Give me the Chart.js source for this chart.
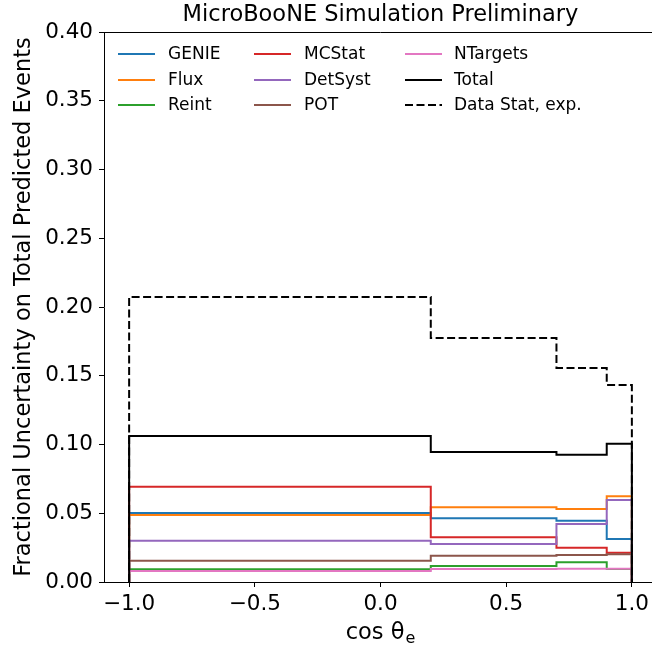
<!DOCTYPE html>
<html>
<head>
<meta charset="utf-8">
<script src="https://cdn.jsdelivr.net/npm/chart.js@4/dist/chart.umd.min.js"></script>
<style>
  html, body { margin: 0; padding: 0; background: #fff; overflow: hidden; }
  #wrap { width: 652px; height: 648px; overflow: hidden; position: relative; }
  canvas { display: block; }
</style>
</head>
<body>
<div id="wrap"><canvas id="c" width="670" height="648"></canvas></div>
<script>
// ---- data ----
const binEdges = [-1.0, 0.2, 0.7, 0.9, 1.0];
const xTickValues = [-1.0, -0.5, 0.0, 0.5, 1.0];
const seriesNames = ["GENIE", "Flux", "Reint", "MCStat", "DetSyst", "POT", "NTargets", "Total", "Data Stat, exp."];
const genie    = [0.0502, 0.0463, 0.0446, 0.0313];
const flux     = [0.0487, 0.0543, 0.0531, 0.0623];
const reint    = [0.0092, 0.0116, 0.0143, 0.0095];
const mcstat   = [0.0693, 0.0325, 0.0250, 0.0213];
const detsyst  = [0.0300, 0.0276, 0.0422, 0.0596];
const pot      = [0.0155, 0.0191, 0.0196, 0.0201];
const ntargets = [0.0080, 0.0095, 0.0096, 0.0097];
const total    = [0.1062, 0.0945, 0.0925, 0.1006];
const dataStat = [0.2073, 0.1775, 0.1556, 0.1433];

const seriesValues = [genie, flux, reint, mcstat, detsyst, pot, ntargets, total, dataStat];
const seriesColors = ["#1f77b4", "#ff7f0e", "#2ca02c", "#d62728", "#9467bd", "#8c564b", "#e377c2", "#000000", "#000000"];
const seriesDash = [[], [], [], [], [], [], [], [], [8, 3.5]];

const FONT = "'DejaVu Sans', 'Liberation Sans', sans-serif";

function stepPoints(edges, vals) {
  const pts = [{x: edges[0], y: 0}];
  for (let i = 0; i < vals.length; i++) {
    pts.push({x: edges[i], y: vals[i]});
    pts.push({x: edges[i + 1], y: vals[i]});
  }
  pts.push({x: edges[edges.length - 1], y: 0});
  return pts;
}

const datasets = seriesNames.map((name, i) => ({
  label: name,
  data: stepPoints(binEdges, seriesValues[i]),
  borderColor: seriesColors[i],
  backgroundColor: seriesColors[i],
  borderWidth: 2,
  borderDash: seriesDash[i],
  pointRadius: 0,
  tension: 0,
  fill: false,
  order: seriesNames.length - i
}));

const fmtMinus = v => (v < 0 ? "\u2212" + Math.abs(v).toFixed(1) : v.toFixed(1));

const decorPlugin = {
  id: 'decor',
  afterDraw(chart) {
    const ctx = chart.ctx;
    const a = chart.chartArea;
    const cx = (a.left + a.right) / 2;
    ctx.save();
    // top and right spines
    ctx.strokeStyle = '#000';
    ctx.lineWidth = 1;
    ctx.beginPath();
    ctx.moveTo(a.left, a.top + 0.5);
    ctx.lineTo(a.right, a.top + 0.5);
    ctx.moveTo(a.right - 0.5, a.top);
    ctx.lineTo(a.right - 0.5, a.bottom);
    ctx.stroke();
    // title
    ctx.fillStyle = '#000';
    ctx.font = "22.5px " + FONT;
    ctx.textAlign = 'center';
    ctx.textBaseline = 'middle';
    ctx.fillText("MicroBooNE Simulation Preliminary", cx, 15);
    // x axis title: cos θ with subscript e
    ctx.textBaseline = 'alphabetic';
    ctx.textAlign = 'left';
    const mainTxt = "cos \u03b8";
    ctx.font = "22.5px " + FONT;
    const wMain = ctx.measureText(mainTxt).width;
    ctx.font = "16px " + FONT;
    const wSub = ctx.measureText("e").width;
    const x0 = cx - (wMain + wSub + 1) / 2;
    ctx.font = "22.5px " + FONT;
    ctx.fillText(mainTxt, x0, 639);
    ctx.font = "16px " + FONT;
    ctx.fillText("e", x0 + wMain + 1, 643);
    // legend (3 columns, column-major like matplotlib)
    ctx.font = "17px " + FONT;
    ctx.textBaseline = 'middle';
    ctx.textAlign = 'left';
    const colLineX = [118, 254, 405];
    const colTextX = [168, 304, 454];
    const rowY = [54, 80, 105];
    chart.data.datasets.forEach((ds, i) => {
      const col = Math.floor(i / 3), row = i % 3;
      const y = rowY[row];
      ctx.strokeStyle = ds.borderColor;
      ctx.lineWidth = 2;
      ctx.setLineDash(ds.borderDash && ds.borderDash.length ? ds.borderDash : []);
      ctx.beginPath();
      ctx.moveTo(colLineX[col], y);
      ctx.lineTo(colLineX[col] + 37, y);
      ctx.stroke();
      ctx.setLineDash([]);
      ctx.fillStyle = '#000';
      ctx.fillText(ds.label, colTextX[col], y + 1);
    });
    ctx.restore();
  }
};

new Chart(document.getElementById('c'), {
  type: 'line',
  data: { datasets },
  options: {
    responsive: false,
    animation: false,
    devicePixelRatio: 1,
    layout: { padding: { top: 32, right: 13, bottom: 0, left: 0 } },
    plugins: { legend: { display: false }, tooltip: { enabled: false }, title: { display: false } },
    scales: {
      x: {
        type: 'linear',
        min: -1.1,
        max: 1.1,
        afterBuildTicks: s => { s.ticks = xTickValues.map(v => ({ value: v })); },
        afterFit: s => { s.height = 66; },
        ticks: {
          color: '#000',
          font: { family: FONT, size: 21.5 },
          padding: 5,
          maxRotation: 0,
          callback: v => fmtMinus(v)
        },
        grid: { drawOnChartArea: false, drawTicks: true, tickLength: 5, color: '#000', tickWidth: 1 },
        border: { display: true, color: '#000', width: 1 },
        title: { display: false }
      },
      y: {
        type: 'linear',
        min: 0,
        max: 0.4,
        afterFit: s => { s.width = 104; },
        ticks: {
          stepSize: 0.05,
          color: '#000',
          font: { family: FONT, size: 21.5 },
          padding: 6,
          callback: v => v.toFixed(2)
        },
        grid: { drawOnChartArea: false, drawTicks: true, tickLength: 5, color: '#000', tickWidth: 1 },
        border: { display: true, color: '#000', width: 1 },
        title: {
          display: true,
          text: "Fractional Uncertainty on Total Predicted Events",
          color: '#000',
          font: { family: FONT, size: 22.5 },
          padding: { top: 11, bottom: 0 }
        }
      }
    }
  },
  plugins: [decorPlugin]
});
</script>
</body>
</html>
